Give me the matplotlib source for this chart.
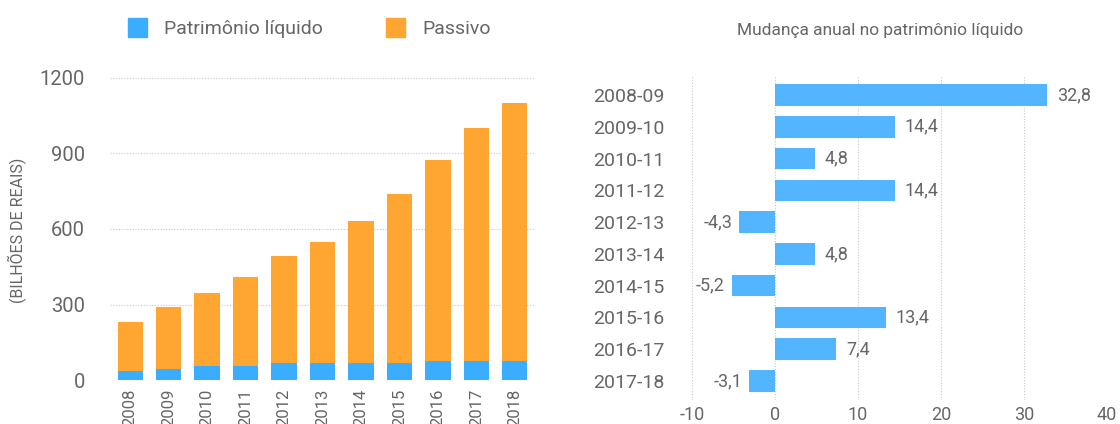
import matplotlib
matplotlib.use("Agg")
import matplotlib.pyplot as plt
from matplotlib.patches import Patch

plt.rcParams['font.family'] = ['Roboto', 'DejaVu Sans']

years = ['2008', '2009', '2010', '2011', '2012', '2013', '2014', '2015', '2016', '2017', '2018']
patrimonio = [37, 45, 57, 57, 69, 69, 69, 69, 77, 77, 77]
total = [229, 290, 346, 408, 493, 548, 631, 740, 875, 1002, 1099]
passivo = [t - p for t, p in zip(total, patrimonio)]
yticks_left = [0, 300, 600, 900, 1200]

periods = ['2008-09', '2009-10', '2010-11', '2011-12', '2012-13', '2013-14',
           '2014-15', '2015-16', '2016-17', '2017-18']
changes = [32.8, 14.4, 4.8, 14.4, -4.3, 4.8, -5.2, 13.4, 7.4, -3.1]
xticks_right = [-10, 0, 10, 20, 30, 40]

BLUE = '#3aadff'
ORANGE = '#ffa632'
BLUE2 = '#52b5fd'
TXT = '#666666'
GRID = '#c8c8c8'

W, H = 1120, 424
fig = plt.figure(figsize=(W / 100, H / 100), dpi=100)

def rect(l, t, r, b):
    return [l / W, 1 - b / H, (r - l) / W, (b - t) / H]

# Left chart
ax = fig.add_axes(rect(110, 78, 535, 380))
x = list(range(len(years)))
ax.bar(x, patrimonio, width=0.65, color=BLUE, zorder=3)
ax.bar(x, passivo, bottom=patrimonio, width=0.65, color=ORANGE, zorder=3)
ax.set_ylim(0, 1200)
ax.set_xlim(-0.52, len(years) - 0.48)
ax.set_yticks(yticks_left)
ax.set_yticklabels([str(v) for v in yticks_left], fontsize=14.5, color=TXT)
ax.set_xticks(x)
ax.set_xticklabels(years, rotation=90, fontsize=12, color=TXT)
ax.tick_params(axis='both', length=0)
ax.tick_params(axis='y', pad=18)
ax.tick_params(axis='x', pad=6)
for s in ax.spines.values():
    s.set_visible(False)
ax.yaxis.grid(True, linestyle=(0, (1, 1.5)), color=GRID, linewidth=0.8, zorder=0)
ax.set_axisbelow(True)
fig.text(18 / W, 1 - 230 / H, '(BILHÕES DE REAIS)', rotation=90, ha='center',
         va='center', fontsize=11.5, color=TXT)

# Legend
handles = [Patch(color=BLUE, label='Patrimônio líquido'),
           Patch(color=ORANGE, label='Passivo')]
fig.legend(handles=handles, loc='center left', bbox_to_anchor=(110 / W, 1 - 28 / H),
           ncol=2, frameon=False, fontsize=14, labelcolor=TXT,
           handlelength=1.0, handleheight=1.1, handletextpad=0.9, columnspacing=3.2)

# Right chart
ax2 = fig.add_axes(rect(692, 75, 1107, 400))
y = list(range(len(periods)))
ax2.barh(y, changes, height=0.68, color=BLUE2, zorder=3)
ax2.set_xlim(-10, 40)
ax2.set_ylim(len(periods) - 0.4, -0.63)
ax2.set_yticks(y)
ax2.set_yticklabels(periods, fontsize=14, color=TXT)
ax2.set_xticks(xticks_right)
ax2.set_xticklabels([str(v) for v in xticks_right], fontsize=13, color=TXT)
ax2.tick_params(axis='both', length=0)
ax2.tick_params(axis='y', pad=20)
ax2.tick_params(axis='x', pad=4)
for s in ax2.spines.values():
    s.set_visible(False)
ax2.xaxis.grid(True, linestyle=(0, (1, 1.5)), color=GRID, linewidth=0.8, zorder=0)
ax2.set_axisbelow(True)
for yi, v in zip(y, changes):
    lab = f'{v:.1f}'.replace('.', ',')
    if v >= 0:
        ax2.annotate(lab, (v, yi), xytext=(7, 0), textcoords='offset points',
                     ha='left', va='center', fontsize=13, color=TXT)
    else:
        ax2.annotate(lab, (v, yi), xytext=(-5, 0), textcoords='offset points',
                     ha='right', va='center', fontsize=13, color=TXT)

fig.text(880 / W, 1 - 30 / H, 'Mudança anual no patrimônio líquido', ha='center',
         va='center', fontsize=12.5, color=TXT)

fig.savefig('out.png', dpi=100)
